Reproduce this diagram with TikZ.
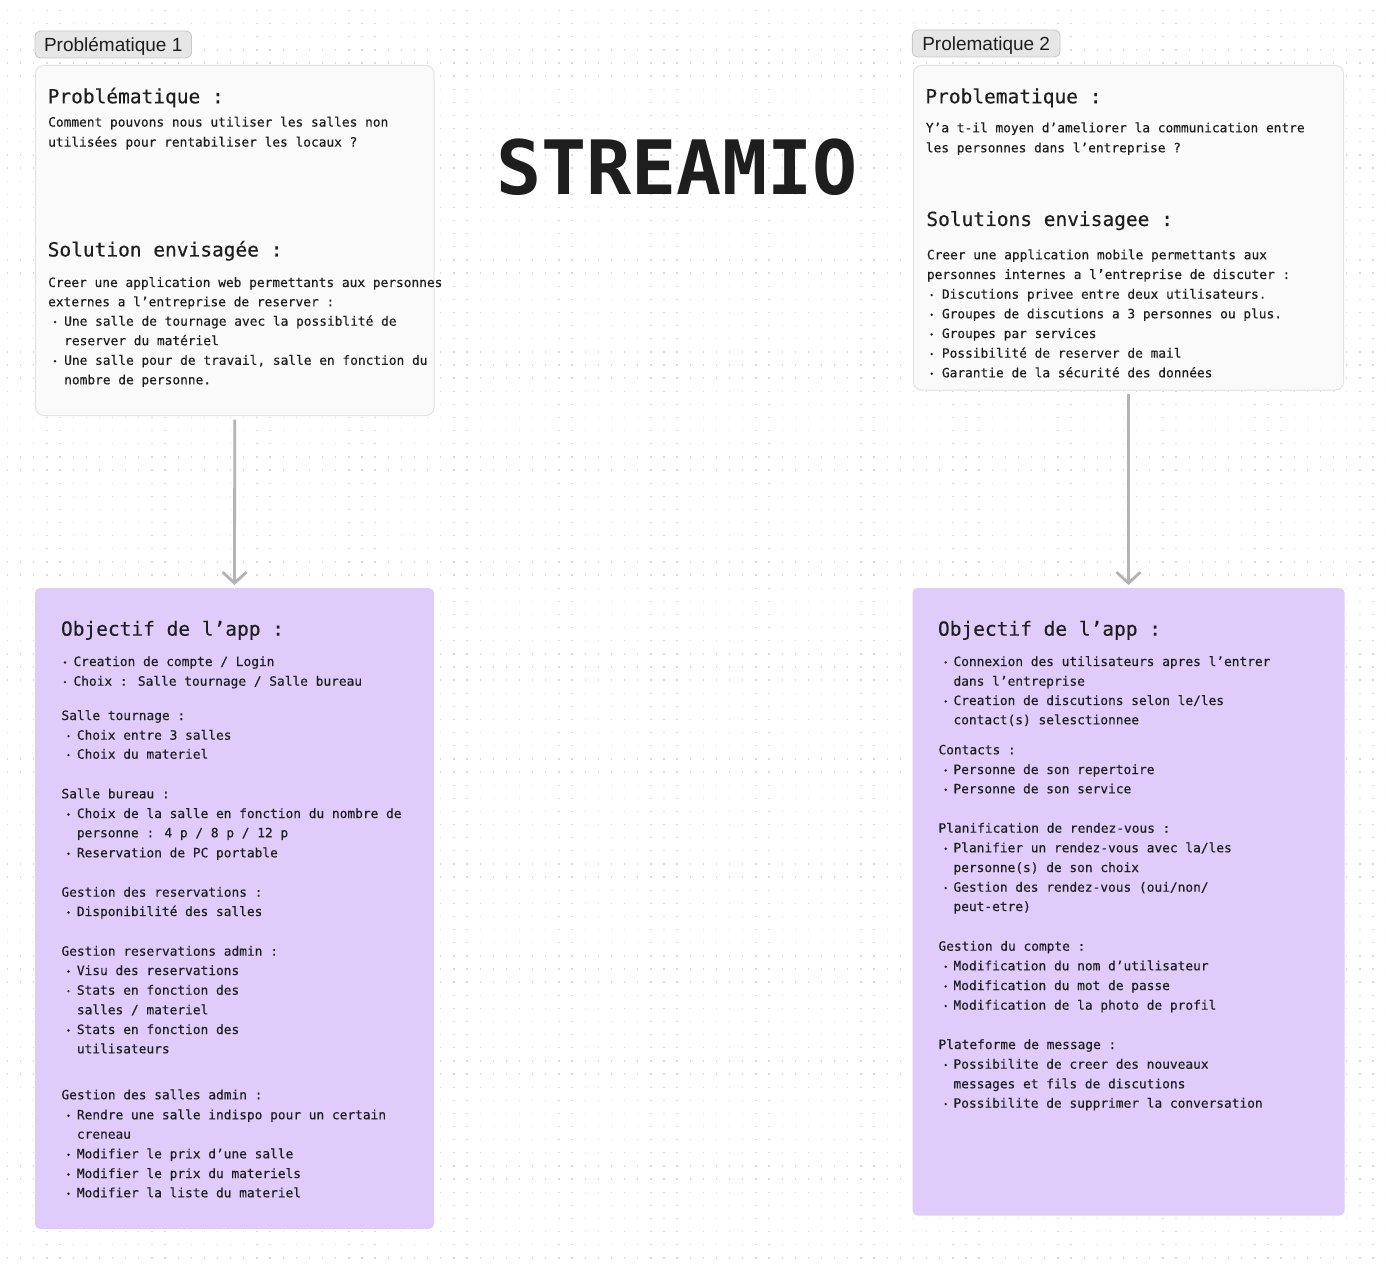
\documentclass[tikz,border=0pt]{standalone}
\usepackage{fontspec}
\setmainfont{DejaVu Sans Mono}
\newfontfamily\monofont[FakeBold=0.35]{DejaVu Sans Mono}
\newfontfamily\titlefont{DejaVu Sans Mono}
\newfontfamily\tagfont{Liberation Sans}
\usetikzlibrary{arrows.meta}
\definecolor{ink}{HTML}{1E1E1E}
\definecolor{cardfill}{HTML}{FAFAFA}
\definecolor{cardline}{HTML}{E2E2E2}
\definecolor{tagfill}{HTML}{E6E6E6}
\definecolor{tagline}{HTML}{C8C8C8}
\definecolor{lav}{RGB}{224,204,250}
\definecolor{arrowgray}{HTML}{B3B3B3}
\definecolor{dotgray}{HTML}{DADADA}
\tikzset{
  body/.style={font=\monofont\fontsize{12.84}{15}\selectfont, text=ink, inner sep=0pt, anchor=base west},
  headtxt/.style={font=\monofont\fontsize{19.5}{23}\selectfont, text=ink, inner sep=0pt, anchor=base west},
  titletxt/.style={font=\titlefont\bfseries\fontsize{75}{80}\selectfont, text=ink, inner sep=0pt, anchor=base},
  card/.style={draw=cardline, fill=cardfill, line width=1pt, rounded corners=8pt, inner sep=0pt, outer sep=0pt, anchor=north west},
  lavbox/.style={fill=lav, rounded corners=5pt, inner sep=0pt, outer sep=0pt, anchor=north west},
  tagbox/.style={draw=tagline, fill=tagfill, line width=0.9pt, rounded corners=6pt, font=\tagfont\fontsize{19}{22}\selectfont, text=ink, text height=13.6pt, text depth=0pt, inner ysep=6.7pt, inner xsep=0pt, outer sep=0pt, anchor=north west},
  arr/.style={draw=arrowgray, line width=2.8pt, -{Straight Barb[length=11pt,width=24pt]}},
  dotrow/.style={draw=dotgray, line width=1.3pt, dash pattern=on 1.3pt off 11.83pt}
}
\newcommand\Ln[4]{\node[body] (#1) at (#2,#3) {#4};}
\newcommand\Bl[5]{\fill[ink] (#2,#4) ++(0,-3.6) circle[radius=1.35pt]; \node[body] (#1) at (#3,#4) {#5};}
\begin{document}
\begin{tikzpicture}[x=1pt,y=-1pt]
\useasboundingbox (0,0) rectangle (1386,1265);
\fill[white] (0,0) rectangle (1386,1265);
% dot grid
\foreach \k in {0,...,96} {
  \draw[dotrow] (6.85,{10.5+13.13*\k}) -- (1386,{10.5+13.13*\k});
}
% tags
\node[tagbox, minimum width=156.5pt] (tag1) at (35,31) {Problématique 1};
\node[tagbox, minimum width=147.7pt] (tag2) at (912.3,30) {Prolematique 2};
% cards
\node[card, minimum width=398.5pt, minimum height=350pt] (p1) at (35.5,65.5) {};
\node[card, minimum width=430pt, minimum height=324.5pt] (p2) at (913.5,65.5) {};
\node[lavbox, minimum width=399pt, minimum height=641pt] (o1) at (35,588) {};
\node[lavbox, minimum width=432pt, minimum height=627.7pt] (o2) at (912.5,588) {};
% title
\node[titletxt] (title) at (677,195) {STREAMIO};
% arrows
\draw[arr] ([yshift=-4pt]p1.south) -- ([yshift=3pt]o1.north);
\draw[arr] ([yshift=-4pt]p2.south) -- ([yshift=3pt]o2.north);
% card 1
\node[headtxt] (h1) at (47.5,103.3) {Problématique :};
\Ln{a1}{48}{126.6}{Comment pouvons nous utiliser les salles non}
\Ln{a2}{48}{146.6}{utilisées pour rentabiliser les locaux ?}
\node[headtxt] (h2) at (47.5,256.5) {Solution envisagée :};
\Ln{a3}{48}{287}{Creer une application web permettants aux personnes}
\Ln{a4}{48}{306.3}{externes a l’entreprise de reserver :}
\Bl{a5}{55}{64}{325.7}{Une salle de tournage avec la possiblité de}
\Ln{a6}{64}{345.2}{reserver du matériel}
\Bl{a7}{55}{64}{364.8}{Une salle pour de travail, salle en fonction du}
\Ln{a8}{64}{384.3}{nombre de personne.}
% card 2
\node[headtxt] (h3) at (925.2,103.3) {Problematique :};
\Ln{b1}{925.7}{132.3}{Y’a t-il moyen d’ameliorer la communication entre}
\Ln{b2}{925.7}{152.3}{les personnes dans l’entreprise ?}
\node[headtxt] (h4) at (926.2,226) {Solutions envisagee :};
\Ln{b3}{926.7}{259.3}{Creer une application mobile permettants aux}
\Ln{b4}{926.7}{279}{personnes internes a l’entreprise de discuter :}
\Bl{b5}{931.7}{941.7}{298.7}{Discutions privee entre deux utilisateurs.}
\Bl{b6}{931.7}{941.7}{318.3}{Groupes de discutions a 3 personnes ou plus.}
\Bl{b7}{931.7}{941.7}{338}{Groupes par services}
\Bl{b8}{931.7}{941.7}{357.7}{Possibilité de reserver de mail}
\Bl{b9}{931.7}{941.7}{377.3}{Garantie de la sécurité des données}
% purple 1
\node[headtxt] (h5) at (60.8,635.7) {Objectif de l’app :};
\Bl{c1}{65}{73.3}{666}{Creation de compte / Login}
\Bl{c2}{65}{73.3}{685.7}{Choix : Salle tournage / Salle bureau}
\Ln{c3}{61.3}{720}{Salle tournage :}
\Bl{c4}{68.5}{76.7}{739.7}{Choix entre 3 salles}
\Bl{c5}{68.5}{76.7}{758.7}{Choix du materiel}
\Ln{c6}{61.3}{798.3}{Salle bureau :}
\Bl{c7}{68.5}{76.7}{818}{Choix de la salle en fonction du nombre de}
\Ln{c8}{76.7}{837.3}{personne : 4 p / 8 p / 12 p}
\Bl{c9}{68.5}{76.7}{857.3}{Reservation de PC portable}
\Ln{c10}{61.3}{896.7}{Gestion des reservations :}
\Bl{c11}{68.5}{76.7}{916}{Disponibilité des salles}
\Ln{c12}{61.3}{955.7}{Gestion reservations admin :}
\Bl{c13}{68.5}{76.7}{975}{Visu des reservations}
\Bl{c14}{68.5}{76.7}{994.7}{Stats en fonction des}
\Ln{c15}{76.7}{1014.3}{salles / materiel}
\Bl{c16}{68.5}{76.7}{1034}{Stats en fonction des}
\Ln{c17}{76.7}{1053.3}{utilisateurs}
\Ln{c18}{61.3}{1099.3}{Gestion des salles admin :}
\Bl{c19}{68.5}{76.7}{1119.3}{Rendre une salle indispo pour un certain}
\Ln{c20}{76.7}{1138.7}{creneau}
\Bl{c21}{68.5}{76.7}{1158.3}{Modifier le prix d’une salle}
\Bl{c22}{68.5}{76.7}{1178}{Modifier le prix du materiels}
\Bl{c23}{68.5}{76.7}{1197.3}{Modifier la liste du materiel}
% purple 2
\node[headtxt] (h6) at (937.8,635.7) {Objectif de l’app :};
\Bl{d1}{945.7}{953.3}{666}{Connexion des utilisateurs apres l’entrer}
\Ln{d2}{953.3}{685.7}{dans l’entreprise}
\Bl{d3}{945.7}{953.3}{705}{Creation de discutions selon le/les}
\Ln{d4}{953.3}{724.3}{contact(s) selesctionnee}
\Ln{d5}{938.3}{754.3}{Contacts :}
\Bl{d6}{945.7}{953.3}{774}{Personne de son repertoire}
\Bl{d7}{945.7}{953.3}{793.3}{Personne de son service}
\Ln{d8}{938.3}{832.7}{Planification de rendez-vous :}
\Bl{d9}{945.7}{953.3}{852.3}{Planifier un rendez-vous avec la/les}
\Ln{d10}{953.3}{872}{personne(s) de son choix}
\Bl{d11}{945.7}{953.3}{891.7}{Gestion des rendez-vous (oui/non/}
\Ln{d12}{953.3}{911}{peut-etre)}
\Ln{d13}{938.3}{950.7}{Gestion du compte :}
\Bl{d14}{945.7}{953.3}{970.3}{Modification du nom d’utilisateur}
\Bl{d15}{945.7}{953.3}{990}{Modification du mot de passe}
\Bl{d16}{945.7}{953.3}{1009.7}{Modification de la photo de profil}
\Ln{d17}{938.3}{1049}{Plateforme de message :}
\Bl{d18}{945.7}{953.3}{1068.7}{Possibilite de creer des nouveaux}
\Ln{d19}{953.3}{1088.3}{messages et fils de discutions}
\Bl{d20}{945.7}{953.3}{1107.7}{Possibilite de supprimer la conversation}
\end{tikzpicture}
\end{document}
